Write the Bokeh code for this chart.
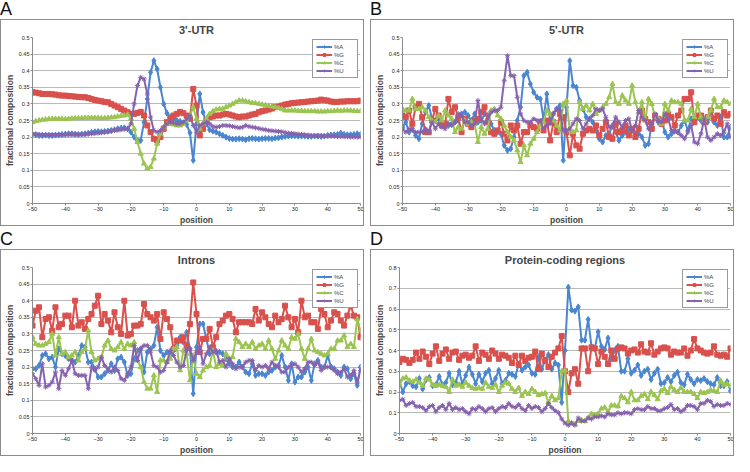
from bokeh.plotting import figure
from bokeh.models import Div, CustomJSTickFormatter, FixedTicker, Legend, LegendItem, Range1d
from bokeh.layouts import column, row
from bokeh.embed import file_html
from bokeh.resources import INLINE

positions = list(range(-50, 51))
series_names = ["%A", "%G", "%C", "%U"]
x_ticks = [-50, -40, -30, -20, -10, 0, 10, 20, 30, 40, 50]
y_ticks_utr = [0, 0.05, 0.1, 0.15, 0.2, 0.25, 0.3, 0.35, 0.4, 0.45, 0.5]
y_ticks_cds = [0, 0.1, 0.2, 0.3, 0.4, 0.5, 0.6, 0.7, 0.8]
panel_letters = ["A", "B", "C", "D"]
panel_titles = ["3'-UTR", "5'-UTR", "Introns", "Protein-coding regions"]

# ---- Panel A: 3'-UTR ----
utr3_A = [0.208,0.207,0.205,0.205,0.206,0.205,0.205,0.206,0.207,0.208,
          0.209,0.210,0.210,0.209,0.208,0.209,0.210,0.212,0.214,0.216,
          0.217,0.216,0.217,0.218,0.220,0.222,0.225,0.227,0.228,0.225,
          0.215,0.200,0.190,0.190,0.245,0.315,0.395,0.430,0.405,0.350,
          0.300,0.272,0.260,0.255,0.250,0.247,0.243,0.238,0.213,0.130,
          0.240,0.330,0.275,0.240,0.222,0.218,0.215,0.210,0.205,0.200,
          0.196,0.194,0.194,0.195,0.194,0.192,0.195,0.196,0.195,0.194,
          0.195,0.196,0.196,0.195,0.197,0.198,0.200,0.202,0.203,0.204,
          0.204,0.203,0.203,0.203,0.202,0.202,0.203,0.203,0.202,0.203,
          0.205,0.206,0.207,0.208,0.212,0.208,0.207,0.207,0.208,0.210,
          0.208]
utr3_G = [0.335,0.334,0.332,0.330,0.330,0.330,0.329,0.328,0.326,0.325,
          0.325,0.324,0.323,0.322,0.321,0.320,0.320,0.318,0.315,0.312,
          0.310,0.308,0.306,0.305,0.300,0.295,0.290,0.285,0.280,0.275,
          0.270,0.270,0.273,0.276,0.265,0.235,0.215,0.195,0.190,0.200,
          0.225,0.245,0.255,0.265,0.270,0.276,0.272,0.265,0.255,0.345,
          0.295,0.205,0.225,0.250,0.260,0.262,0.265,0.265,0.268,0.270,
          0.268,0.265,0.262,0.260,0.262,0.262,0.265,0.268,0.270,0.275,
          0.278,0.280,0.283,0.286,0.290,0.292,0.295,0.298,0.300,0.302,
          0.303,0.304,0.305,0.306,0.307,0.308,0.309,0.310,0.313,0.311,
          0.310,0.307,0.306,0.306,0.307,0.307,0.308,0.308,0.308,0.308,
          0.310]
utr3_C = [0.245,0.248,0.250,0.252,0.253,0.254,0.255,0.255,0.255,0.255,
          0.254,0.255,0.256,0.257,0.257,0.257,0.258,0.258,0.258,0.258,
          0.258,0.257,0.257,0.258,0.259,0.260,0.262,0.264,0.265,0.268,
          0.255,0.225,0.185,0.150,0.120,0.105,0.110,0.135,0.180,0.210,
          0.230,0.240,0.240,0.238,0.235,0.235,0.240,0.250,0.265,0.290,
          0.255,0.225,0.240,0.255,0.270,0.278,0.283,0.285,0.285,0.290,
          0.295,0.300,0.305,0.310,0.310,0.308,0.305,0.303,0.302,0.300,
          0.298,0.296,0.294,0.292,0.290,0.288,0.285,0.280,0.280,0.280,
          0.280,0.279,0.279,0.278,0.278,0.278,0.278,0.277,0.277,0.277,
          0.278,0.278,0.279,0.280,0.279,0.280,0.280,0.280,0.279,0.278,
          0.278]
utr3_U = [0.210,0.209,0.208,0.207,0.207,0.207,0.207,0.207,0.207,0.207,
          0.207,0.207,0.208,0.208,0.208,0.208,0.208,0.209,0.210,0.211,
          0.212,0.213,0.215,0.216,0.218,0.220,0.221,0.222,0.224,0.225,
          0.240,0.300,0.355,0.380,0.375,0.330,0.260,0.220,0.215,0.220,
          0.230,0.240,0.245,0.243,0.240,0.240,0.245,0.255,0.265,0.235,
          0.215,0.235,0.240,0.245,0.240,0.232,0.230,0.232,0.235,0.235,
          0.234,0.232,0.230,0.228,0.230,0.235,0.232,0.230,0.228,0.226,
          0.224,0.222,0.220,0.219,0.218,0.217,0.216,0.214,0.212,0.211,
          0.210,0.209,0.208,0.207,0.206,0.205,0.205,0.204,0.204,0.203,
          0.203,0.203,0.202,0.202,0.202,0.201,0.201,0.200,0.200,0.200,
          0.200]

# ---- Panel B: 5'-UTR ----
utr5_A = [0.230,0.245,0.215,0.225,0.205,0.195,0.240,0.275,0.295,0.255,
          0.250,0.255,0.245,0.240,0.235,0.240,0.245,0.250,0.270,0.275,
          0.265,0.250,0.270,0.245,0.250,0.270,0.265,0.240,0.220,0.215,
          0.210,0.175,0.160,0.165,0.200,0.250,0.290,0.385,0.395,0.360,
          0.335,0.320,0.315,0.255,0.330,0.250,0.270,0.285,0.295,0.130,
          0.290,0.430,0.355,0.350,0.310,0.285,0.260,0.255,0.245,0.220,
          0.195,0.185,0.205,0.210,0.235,0.215,0.190,0.205,0.215,0.225,
          0.220,0.210,0.210,0.200,0.175,0.180,0.240,0.260,0.245,0.250,
          0.215,0.200,0.210,0.220,0.215,0.235,0.250,0.220,0.255,0.260,
          0.260,0.250,0.245,0.245,0.280,0.245,0.235,0.260,0.200,0.200,
          0.230]
utr5_G = [0.265,0.260,0.280,0.240,0.290,0.300,0.260,0.215,0.215,0.250,
          0.285,0.265,0.235,0.240,0.315,0.275,0.290,0.260,0.215,0.255,
          0.240,0.230,0.250,0.255,0.275,0.290,0.245,0.215,0.210,0.220,
          0.245,0.210,0.190,0.235,0.220,0.235,0.180,0.215,0.215,0.235,
          0.230,0.225,0.245,0.220,0.250,0.190,0.245,0.215,0.270,0.260,
          0.215,0.145,0.210,0.175,0.165,0.210,0.220,0.225,0.220,0.235,
          0.205,0.225,0.245,0.200,0.195,0.240,0.215,0.220,0.235,0.205,
          0.225,0.200,0.225,0.280,0.255,0.245,0.225,0.265,0.255,0.240,
          0.250,0.270,0.260,0.235,0.265,0.280,0.315,0.315,0.335,0.245,
          0.265,0.265,0.245,0.260,0.280,0.255,0.265,0.240,0.275,0.265,
          0.270]
utr5_C = [0.285,0.280,0.280,0.315,0.285,0.285,0.290,0.280,0.260,0.250,
          0.245,0.265,0.250,0.280,0.265,0.255,0.215,0.230,0.225,0.250,
          0.240,0.245,0.240,0.185,0.230,0.210,0.225,0.280,0.285,0.265,
          0.255,0.235,0.215,0.200,0.190,0.160,0.125,0.175,0.145,0.180,
          0.195,0.215,0.235,0.245,0.280,0.270,0.250,0.235,0.220,0.300,
          0.310,0.220,0.215,0.220,0.305,0.285,0.295,0.280,0.300,0.270,
          0.280,0.290,0.300,0.320,0.360,0.305,0.300,0.325,0.310,0.300,
          0.355,0.305,0.275,0.305,0.250,0.315,0.300,0.260,0.255,0.240,
          0.300,0.280,0.310,0.305,0.305,0.300,0.250,0.250,0.285,0.260,
          0.300,0.260,0.250,0.260,0.280,0.315,0.290,0.290,0.310,0.305,
          0.300]
utr5_U = [0.225,0.215,0.225,0.220,0.215,0.215,0.215,0.225,0.215,0.245,
          0.225,0.240,0.230,0.225,0.240,0.235,0.245,0.270,0.265,0.245,
          0.245,0.235,0.240,0.310,0.255,0.240,0.255,0.275,0.280,0.280,
          0.290,0.370,0.445,0.385,0.385,0.320,0.270,0.250,0.245,0.245,
          0.255,0.250,0.250,0.225,0.235,0.240,0.270,0.285,0.280,0.220,
          0.220,0.225,0.240,0.255,0.250,0.225,0.240,0.255,0.265,0.285,
          0.280,0.285,0.260,0.230,0.230,0.260,0.245,0.230,0.250,0.255,
          0.220,0.235,0.280,0.260,0.250,0.225,0.240,0.270,0.250,0.245,
          0.270,0.255,0.220,0.215,0.215,0.205,0.195,0.215,0.235,0.185,
          0.180,0.210,0.255,0.200,0.190,0.200,0.210,0.205,0.215,0.240,
          0.200]

# ---- Panel C: Introns ----
intron_A = [0.195,0.195,0.205,0.235,0.240,0.225,0.230,0.200,0.255,0.240,
            0.235,0.225,0.220,0.215,0.235,0.265,0.260,0.215,0.215,0.195,
            0.170,0.170,0.180,0.190,0.210,0.190,0.225,0.230,0.215,0.175,
            0.180,0.225,0.250,0.255,0.185,0.245,0.255,0.265,0.320,0.250,
            0.235,0.245,0.245,0.250,0.265,0.290,0.275,0.305,0.255,0.120,
            0.260,0.330,0.330,0.285,0.240,0.255,0.245,0.245,0.240,0.225,
            0.210,0.200,0.200,0.215,0.200,0.185,0.180,0.210,0.175,0.180,
            0.180,0.175,0.185,0.190,0.200,0.205,0.235,0.200,0.160,0.210,
            0.155,0.170,0.170,0.185,0.200,0.160,0.210,0.220,0.200,0.200,
            0.235,0.200,0.195,0.185,0.175,0.200,0.195,0.165,0.180,0.145,
            0.200]
intron_G = [0.325,0.370,0.380,0.290,0.345,0.350,0.310,0.380,0.320,0.330,
            0.355,0.355,0.320,0.400,0.325,0.335,0.315,0.345,0.360,0.385,
            0.415,0.330,0.360,0.340,0.305,0.365,0.320,0.300,0.400,0.295,
            0.300,0.325,0.325,0.330,0.390,0.360,0.350,0.340,0.360,0.285,
            0.365,0.345,0.320,0.255,0.280,0.280,0.290,0.260,0.330,0.455,
            0.360,0.245,0.285,0.285,0.315,0.260,0.290,0.330,0.340,0.355,
            0.360,0.345,0.305,0.335,0.335,0.335,0.335,0.330,0.375,0.340,
            0.365,0.350,0.330,0.320,0.355,0.335,0.345,0.385,0.350,0.320,
            0.345,0.305,0.400,0.350,0.355,0.335,0.335,0.315,0.375,0.360,
            0.320,0.340,0.365,0.360,0.340,0.325,0.355,0.385,0.355,0.350,
            0.290]
intron_C = [0.290,0.270,0.265,0.265,0.270,0.275,0.300,0.235,0.290,0.240,
            0.245,0.230,0.235,0.245,0.220,0.245,0.255,0.310,0.245,0.220,
            0.225,0.230,0.265,0.280,0.255,0.250,0.260,0.275,0.255,0.270,
            0.265,0.275,0.220,0.200,0.155,0.135,0.135,0.175,0.125,0.220,
            0.220,0.215,0.225,0.255,0.260,0.190,0.250,0.240,0.160,0.235,
            0.180,0.170,0.190,0.200,0.205,0.250,0.200,0.210,0.205,0.240,
            0.225,0.230,0.285,0.275,0.260,0.270,0.260,0.275,0.255,0.265,
            0.270,0.255,0.280,0.255,0.225,0.250,0.280,0.265,0.255,0.290,
            0.285,0.300,0.255,0.225,0.255,0.285,0.250,0.245,0.240,0.235,
            0.240,0.255,0.255,0.280,0.280,0.295,0.260,0.270,0.260,0.345,
            0.310]
intron_U = [0.180,0.165,0.145,0.210,0.140,0.145,0.155,0.185,0.135,0.190,
            0.175,0.195,0.220,0.180,0.175,0.175,0.175,0.135,0.200,0.190,
            0.200,0.230,0.205,0.195,0.185,0.200,0.190,0.165,0.160,0.180,
            0.200,0.265,0.220,0.255,0.265,0.265,0.245,0.205,0.200,0.185,
            0.190,0.215,0.250,0.235,0.215,0.200,0.205,0.250,0.255,0.220,
            0.245,0.260,0.210,0.240,0.260,0.245,0.250,0.215,0.220,0.200,
            0.225,0.210,0.195,0.200,0.200,0.215,0.220,0.220,0.190,0.205,
            0.200,0.205,0.195,0.215,0.205,0.200,0.185,0.185,0.200,0.205,
            0.210,0.200,0.185,0.195,0.215,0.215,0.205,0.215,0.190,0.200,
            0.200,0.200,0.190,0.180,0.185,0.195,0.170,0.175,0.190,0.155,
            0.190]

# ---- Panel D: Protein-coding regions ----
cds_A = [0.250,0.200,0.240,0.250,0.230,0.225,0.265,0.215,0.260,0.270,
         0.230,0.235,0.275,0.235,0.245,0.290,0.235,0.245,0.300,0.240,
         0.280,0.320,0.285,0.240,0.285,0.250,0.290,0.305,0.240,0.265,
         0.305,0.240,0.255,0.290,0.285,0.275,0.335,0.305,0.320,0.330,
         0.290,0.285,0.370,0.310,0.355,0.380,0.310,0.340,0.330,0.150,
         0.400,0.705,0.595,0.590,0.610,0.450,0.450,0.550,0.420,0.410,
         0.490,0.420,0.405,0.460,0.360,0.400,0.420,0.300,0.300,0.360,
         0.290,0.305,0.330,0.280,0.300,0.310,0.260,0.290,0.310,0.240,
         0.245,0.270,0.250,0.280,0.295,0.245,0.235,0.285,0.260,0.240,
         0.260,0.255,0.265,0.250,0.240,0.235,0.270,0.230,0.230,0.250,
         0.205]
cds_G = [0.345,0.360,0.355,0.340,0.355,0.390,0.360,0.395,0.370,0.335,
         0.385,0.420,0.350,0.385,0.405,0.360,0.390,0.395,0.355,0.375,
         0.380,0.365,0.375,0.420,0.350,0.390,0.380,0.360,0.400,0.385,
         0.360,0.380,0.375,0.365,0.340,0.375,0.330,0.375,0.350,0.365,
         0.370,0.395,0.310,0.385,0.350,0.320,0.370,0.390,0.410,0.470,
         0.300,0.200,0.290,0.310,0.240,0.410,0.410,0.300,0.415,0.410,
         0.335,0.395,0.370,0.335,0.400,0.360,0.410,0.415,0.410,0.385,
         0.400,0.405,0.390,0.430,0.395,0.390,0.435,0.380,0.395,0.410,
         0.415,0.410,0.380,0.395,0.390,0.390,0.410,0.375,0.400,0.455,
         0.410,0.400,0.390,0.385,0.390,0.420,0.380,0.375,0.380,0.370,
         0.410]
cds_C = [0.235,0.265,0.270,0.255,0.250,0.260,0.245,0.230,0.265,0.260,
         0.235,0.230,0.235,0.230,0.225,0.200,0.260,0.230,0.235,0.225,
         0.245,0.230,0.220,0.215,0.220,0.215,0.245,0.225,0.220,0.235,
         0.200,0.230,0.245,0.240,0.215,0.200,0.220,0.180,0.200,0.190,
         0.215,0.200,0.185,0.190,0.195,0.150,0.180,0.160,0.170,0.300,
         0.305,0.060,0.050,0.045,0.060,0.065,0.060,0.075,0.095,0.090,
         0.095,0.120,0.125,0.105,0.135,0.135,0.130,0.180,0.170,0.150,
         0.200,0.160,0.160,0.180,0.190,0.165,0.200,0.185,0.165,0.205,
         0.215,0.195,0.225,0.210,0.200,0.220,0.200,0.200,0.200,0.190,
         0.170,0.200,0.195,0.200,0.210,0.205,0.200,0.255,0.235,0.240,
         0.230]
cds_U = [0.160,0.165,0.135,0.145,0.150,0.130,0.130,0.125,0.110,0.130,
         0.135,0.105,0.125,0.135,0.115,0.145,0.115,0.125,0.115,0.120,
         0.105,0.095,0.120,0.115,0.130,0.120,0.105,0.120,0.125,0.105,
         0.120,0.130,0.125,0.145,0.130,0.125,0.140,0.120,0.110,0.135,
         0.120,0.130,0.125,0.105,0.120,0.145,0.125,0.110,0.100,0.070,
         0.050,0.040,0.050,0.040,0.075,0.060,0.060,0.075,0.070,0.080,
         0.080,0.085,0.080,0.095,0.090,0.090,0.100,0.095,0.100,0.100,
         0.095,0.115,0.120,0.115,0.115,0.130,0.120,0.120,0.110,0.110,
         0.120,0.125,0.140,0.115,0.120,0.105,0.115,0.135,0.135,0.130,
         0.115,0.145,0.145,0.160,0.155,0.130,0.140,0.135,0.135,0.145,
         0.140]

panel_data = [
    [utr3_A, utr3_G, utr3_C, utr3_U],
    [utr5_A, utr5_G, utr5_C, utr5_U],
    [intron_A, intron_G, intron_C, intron_U],
    [cds_A, cds_G, cds_C, cds_U],
]
for grp in panel_data:
    for s in grp:
        if len(s) != len(positions):
            raise ValueError("bad length %d" % len(s))

colors = ["#4a86cf", "#d9504c", "#9cc450", "#8762ad"]
markers = ["diamond", "square", "triangle", "asterisk"]
marker_sizes = [6, 5, 5, 5]
FONT = "Liberation Sans"

fmt = CustomJSTickFormatter(code="return String(Math.round(tick*100)/100);")


def make_panel(title, series, ymax, yticks):
    p = figure(width=362, height=205, output_backend="svg", toolbar_location=None,
               x_range=Range1d(-50, 50), y_range=Range1d(0, ymax),
               min_border_left=2, min_border_right=5, min_border_top=2, min_border_bottom=1,
               styles={"border": "1px solid #8c8c8c", "box-sizing": "content-box"})
    p.title.text = title
    p.title.align = "center"
    p.title.text_font = FONT
    p.title.text_font_size = "11px"
    p.title.text_font_style = "bold"
    p.title.standoff = 3
    p.title.offset = 0
    p.outline_line_color = None
    p.background_fill_color = "white"
    p.border_fill_color = "white"
    p.xgrid.visible = False
    p.ygrid.grid_line_color = "#b9b9b9"
    p.ygrid.grid_line_width = 1
    p.yaxis.ticker = FixedTicker(ticks=yticks)
    p.xaxis.ticker = FixedTicker(ticks=x_ticks)
    p.yaxis.formatter = fmt
    for ax in (p.xaxis[0], p.yaxis[0]):
        ax.axis_line_color = "#8c8c8c"
        ax.major_tick_line_color = "#8c8c8c"
        ax.major_tick_out = 2
        ax.major_tick_in = 0
        ax.minor_tick_line_color = None
        ax.major_label_text_font = FONT
        ax.major_label_text_font_size = "5.5px"
        ax.major_label_text_color = "#222222"
        ax.major_label_standoff = 1
        ax.axis_label_text_font = FONT
        ax.axis_label_text_font_size = "8.5px"
        ax.axis_label_text_font_style = "bold"
        ax.axis_label_standoff = 1
    p.yaxis.axis_label = "fractional composition"
    p.xaxis.axis_label = "position"
    items = []
    for name, vals, c, m, ms in zip(series_names, series, colors, markers, marker_sizes):
        r1 = p.line(positions, vals, line_color=c, line_width=2)
        r2 = p.scatter(positions, vals, marker=m, size=ms, fill_color=c, line_color=c,
                       line_width=1)
        items.append(LegendItem(label=name, renderers=[r1, r2]))
    leg = Legend(items=items, location="top_right", label_text_font=FONT,
                 label_text_font_size="6px", glyph_width=16, glyph_height=7,
                 label_height=7, label_standoff=2, spacing=1, padding=3, margin=2,
                 border_line_color="#333333", border_line_width=1,
                 background_fill_alpha=1)
    p.add_layout(leg)
    return p


def letter_div(t):
    return Div(text=t, width=364, height=19, margin=0,
               styles={"font-family": FONT, "font-size": "18px", "line-height": "19px",
                       "color": "#111", "padding-left": "0px"})


plots = []
for i in range(4):
    ymax = 0.8 if i == 3 else 0.5
    yt = y_ticks_cds if i == 3 else y_ticks_utr
    plots.append(make_panel(panel_titles[i], panel_data[i], ymax, yt))

cells = [column(letter_div(panel_letters[i]), plots[i], spacing=0, margin=0) for i in range(4)]
layout = column(
    row(cells[0], cells[1], spacing=6, margin=0),
    row(cells[2], cells[3], spacing=6, margin=0),
    spacing=4, margin=0,
)

open("out.html", "w").write(file_html(layout, INLINE))
